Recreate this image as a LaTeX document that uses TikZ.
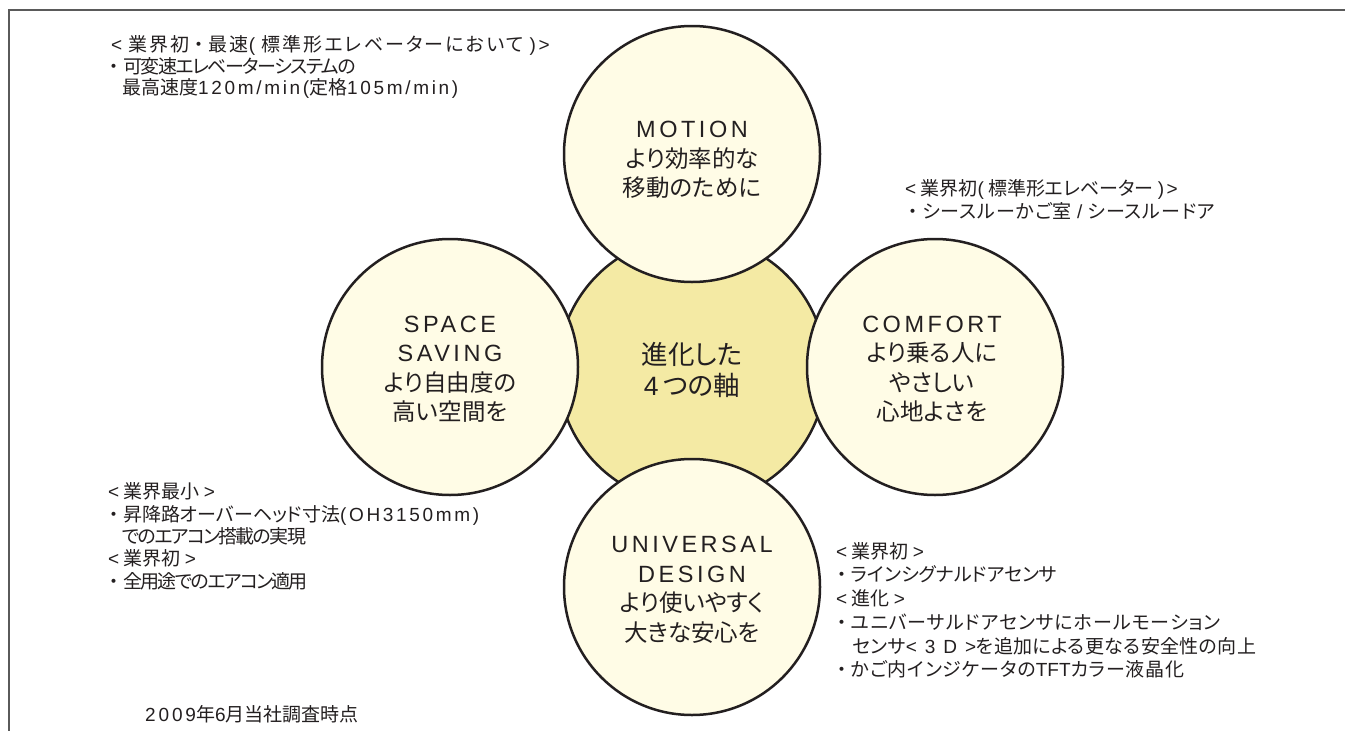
\documentclass[tikz,border=0pt]{standalone}
\usepackage{fontspec}
\setmainfont{Noto Sans CJK JP}
\newfontfamily\jpfont{Noto Sans CJK JP}[RawFeature=+palt]
\newfontfamily\jpfull{Noto Sans CJK JP}
\newfontfamily\latfont{Liberation Sans}[LetterSpace=14]
\newfontfamily\latwide{Liberation Sans}[LetterSpace=15]
\newcommand\la[1]{{\latfont #1}}
\newcommand\lw[1]{{\latwide #1}}
\newcommand\dt{{\jpfull ・}}
\newcommand\trk[2]{{\addfontfeature{LetterSpace=#1}#2}}
\definecolor{lineC}{HTML}{231F20}
\definecolor{textC}{HTML}{231F20}
\definecolor{outerC}{HTML}{FFFCE6}
\definecolor{coreC}{HTML}{F4EAA4}
\definecolor{frameC}{HTML}{5A5A5A}
\tikzset{
  outer/.style={circle, draw=lineC, line width=2.5pt, fill=outerC, minimum size=256pt, inner sep=0pt},
  core/.style={circle, draw=lineC, line width=2.5pt, fill=coreC, minimum size=268pt, inner sep=0pt},
  ctext/.style={align=center, text=textC, inner sep=0pt, font=\jpfont\fontsize{23.5}{29.5}\selectfont},
  ann/.style={anchor=west, text=textC, inner sep=0pt, text height=15pt, text depth=4pt, font=\jpfont\fontsize{19}{22}\selectfont},
}
\begin{document}
\begin{tikzpicture}[x=1pt,y=-1pt]
\useasboundingbox (0,0) rectangle (1345,731);
% frame
\coordinate (fTR) at (1345,10);
\coordinate (fTL) at (9,10);
\coordinate (fBL) at (9,731);
\draw[frameC, line width=2pt] (fTR) -- (fTL) -- (fBL);
% circles
\node[core] (core) at (692,370) {};
\node[outer] (motion) at (692,154) {};
\node[outer] (space) at (450,367) {};
\node[outer] (comfort) at (935,367) {};
\node[outer] (universal) at (692,587) {};
% circle texts
\node[ctext, font=\jpfont\fontsize{26.5}{31}\selectfont] (coreT) at (692,370) {進化した\\\lw{4\,}つの軸};
\node[ctext] (motionT) at (692,160) {\lw{MOTION}\\より効率的な\\移動のために};
\node[ctext] (spaceT) at (450,369) {\lw{SPACE}\\\lw{SAVING}\\より自由度の\\高い空間を};
\node[ctext] (comfortT) at (932,369) {\lw{COMFORT}\\より乗る人に\\やさしい\\心地よさを};
\node[ctext] (universalT) at (692,590) {\lw{UNIVERSAL}\\\lw{DESIGN}\\より使いやすく\\大きな安心を};
% top-left annotation
\node[ann] (tl1) at (111,46) {\trk{11}{\la{<} 業界初\dt 最速\la{(} 標準形エレベーターにおいて \la{)>}}};
\node[ann] (tl2) at (104,68) {\dt\trk{-8}{可変速エレベーターシステムの}};
\node[ann] (tl3) at (122,89) {最高速度\la{120m/min(}定格\la{105m/min)}};
% top-right annotation
\node[ann] (tr1) at (905,190) {\la{<} 業界初\la{(} 標準形エレベーター \la{)>}};
\node[ann] (tr2) at (903,213) {\dt\trk{5}{シースルーかご室 \la{/} シースルードア}};
% bottom-left annotation
\node[ann] (bl1) at (108,493) {\la{<} 業界最小 \la{>}};
\node[ann] (bl2) at (104,516) {\dt 昇降路オーバーヘッド寸法\la{(OH3150mm)}};
\node[ann] (bl3) at (122,538) {\trk{-9}{でのエアコン搭載の実現}};
\node[ann] (bl4) at (108,560) {\la{<} 業界初 \la{>}};
\node[ann] (bl5) at (104,583) {\dt\trk{-9}{全用途でのエアコン適用}};
% bottom-right annotation
\node[ann] (br1) at (836,553) {\la{<} 業界初 \la{>}};
\node[ann] (br2) at (832,576) {\dt ラインシグナルドアセンサ};
\node[ann] (br3) at (836,600) {\la{<} 進化 \la{>}};
\node[ann] (br4) at (832,624) {\dt\trk{5}{ユニバーサルドアセンサにホールモーション}};
\node[ann] (br5) at (852,648) {\trk{2}{センサ\la{< 3 D >}を追加による更なる安全性の向上}};
\node[ann] (br6) at (832,671) {\dt\trk{4}{かご内インジケータの{\fontspec{Liberation Sans}TFT}カラー液晶化}};
% footer
\node[ann] (foot) at (145,716) {\lw{2009}年\lw{6}月当社調査時点};
\end{tikzpicture}
\end{document}
